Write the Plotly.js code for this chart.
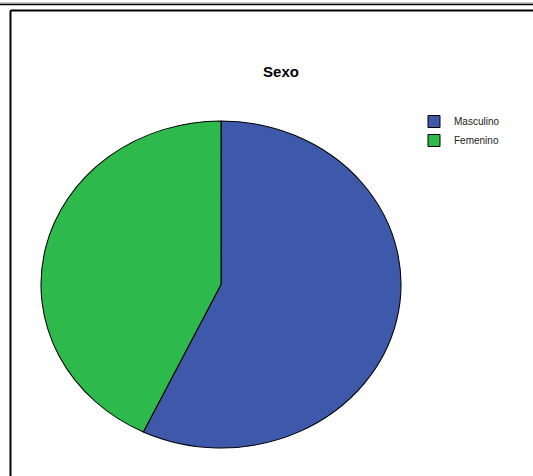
<!DOCTYPE html>
<html>
<head>
<meta charset="utf-8">
<script src="https://cdn.plot.ly/plotly-3.0.1.min.js"></script>
<style>html,body{margin:0;padding:0;background:#fff;}#chart{width:533px;height:476px;}</style>
</head>
<body>
<div id="chart"></div>
<script>
const categories = ["Masculino", "Femenino"];
const values = [57.1, 42.9];
const colors = ["#3E59A9", "#2DB94B"];

const W = 533, H = 476;
const cx = 221, cy = 284.5, r = 170;
const px = v => v / W, py = v => 1 - v / H;

const trace = {
  type: "pie",
  labels: categories,
  values: values,
  sort: false,
  direction: "clockwise",
  rotation: 0,
  textinfo: "none",
  hoverinfo: "label+percent",
  marker: {colors: colors, line: {color: "#000", width: 1}},
  domain: {x: [px(cx - r), px(cx + r)], y: [py(cy + r), py(cy - r)]}
};

const layout = {
  width: W, height: H,
  margin: {l: 0, r: 0, t: 0, b: 0},
  paper_bgcolor: "#fff",
  showlegend: true,
  title: {text: "<b>Sexo</b>", x: px(281), xanchor: "center", y: py(72), yanchor: "middle",
          font: {family: "Liberation Sans, Arial, sans-serif", size: 15, color: "#000"}},
  legend: {x: px(414), y: py(107), xanchor: "left", yanchor: "top",
           font: {family: "Liberation Sans, Arial, sans-serif", size: 10, color: "#222"},
           bgcolor: "rgba(0,0,0,0)", itemwidth: 30, tracegroupgap: 0},
  shapes: [
    {type: "line", xref: "paper", yref: "paper", x0: 0, x1: 1, y0: py(3), y1: py(3), line: {color: "#999", width: 1}},
    {type: "line", xref: "paper", yref: "paper", x0: 0, x1: 1, y0: py(4.5), y1: py(4.5), line: {color: "#000", width: 1.5}},
    {type: "line", xref: "paper", yref: "paper", x0: px(10.5), x1: 1.01, y0: py(10.5), y1: py(10.5), line: {color: "#000", width: 2}},
    {type: "line", xref: "paper", yref: "paper", x0: px(10.5), x1: px(10.5), y0: py(10.5), y1: -0.01, line: {color: "#000", width: 2}}
  ]
};

Plotly.newPlot("chart", [trace], layout, {displayModeBar: false, staticPlot: true}).then(gd => {
  // the reference pie is drawn slightly elliptical (wider than tall)
  const sx = 360 / (2 * r), sy = 327 / (2 * r);
  const layer = gd.querySelector(".pielayer");
  if (layer) layer.setAttribute("transform",
    `translate(${cx},${cy}) scale(${sx},${sy}) translate(${-cx},${-cy})`);
});
</script>
</body>
</html>
